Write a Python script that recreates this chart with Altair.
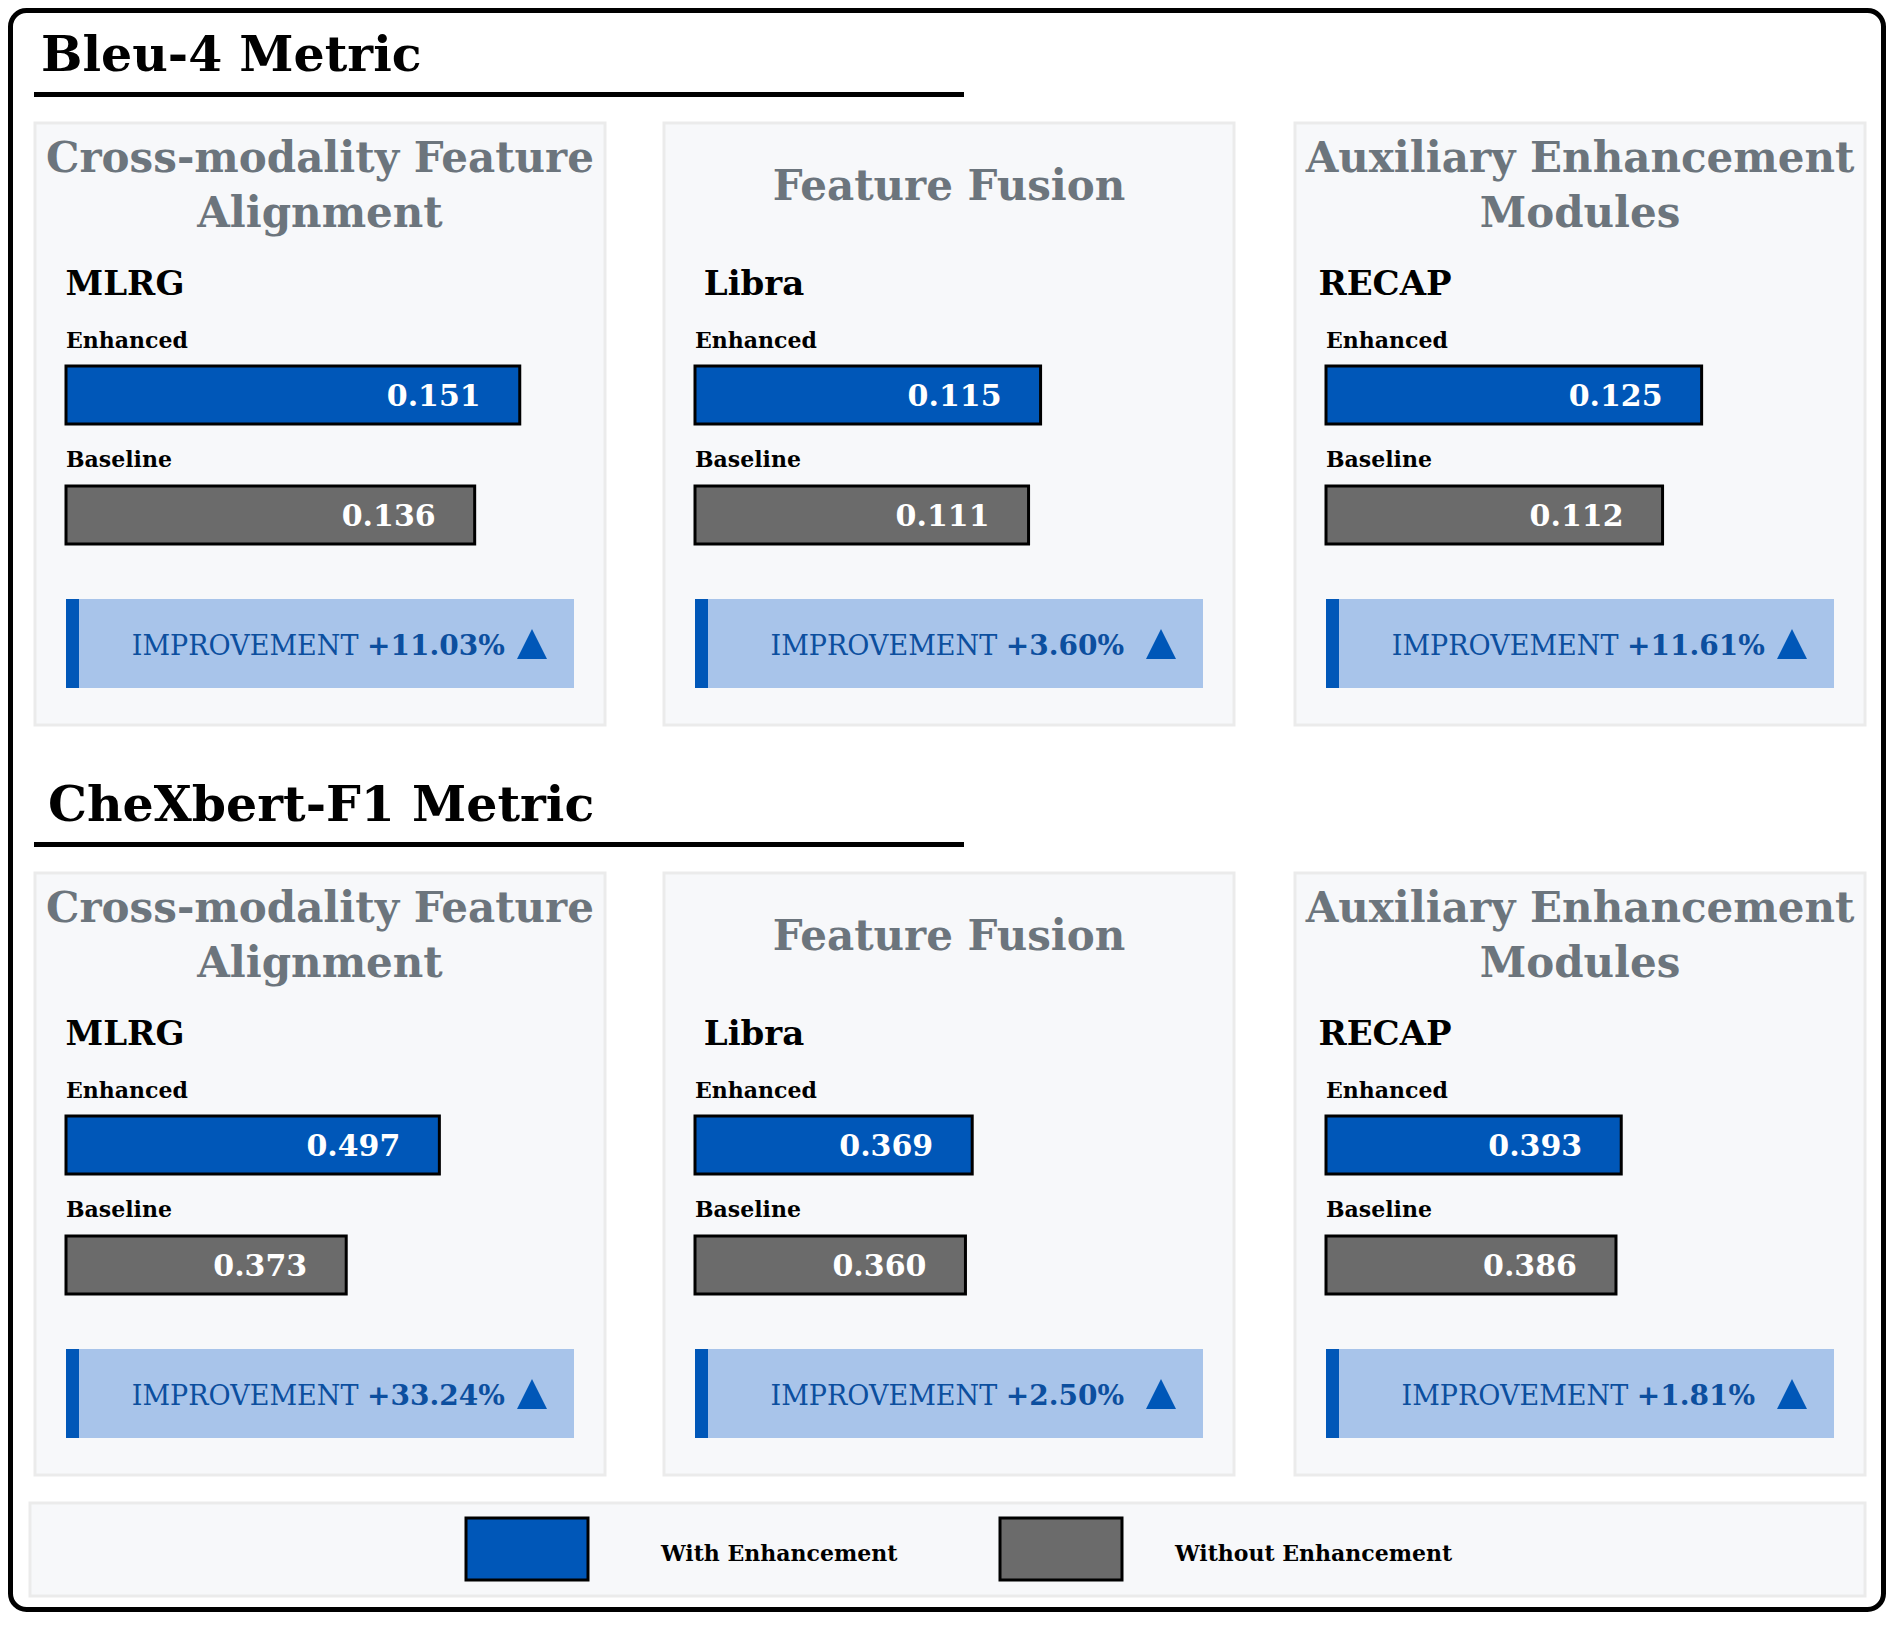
import altair as alt
import pandas as pd

# ------------------------------------------------------------------ data
metrics = ["Bleu-4 Metric", "CheXbert-F1 Metric"]
category_lines = [["Cross-modality Feature", "Alignment"],
                  ["Feature Fusion"],
                  ["Auxiliary Enhancement", "Modules"]]
models = ["MLRG", "Libra", "RECAP"]
bleu_enhanced = [0.151, 0.115, 0.125]
bleu_baseline = [0.136, 0.111, 0.112]
chex_enhanced = [0.497, 0.369, 0.393]
chex_baseline = [0.373, 0.360, 0.386]
bleu_improvement = ["+11.03%", "+3.60%", "+11.61%"]
chex_improvement = ["+33.24%", "+2.50%", "+1.81%"]
axis_max = [0.2, 0.8]
legend_labels = ["With Enhancement", "Without Enhancement"]
kinds = ["Enhanced", "Baseline"]

enhanced = [bleu_enhanced, chex_enhanced]
baseline = [bleu_baseline, chex_baseline]
improvement = [bleu_improvement, chex_improvement]

# ------------------------------------------------------------------ style / layout
FONT = "DejaVu Serif"
BLUE = "#0057b8"
GRAY = "#6b6b6b"
LIGHT = "#a8c4ea"
TXTBLUE = "#0c4f9f"
PANEL_BG = "#f7f8fa"
PANEL_BORDER = "#ebebeb"
TITLE_GRAY = "#6c757d"

OFF = 8
W, H = 1878, 1604
ROW_DY = 750
PANEL_LEFT = [35, 664, 1295]
PANEL_W = 570


def P(v):
    return v - OFF


def sx():
    return alt.Scale(domain=[0, W], range=[0, W], nice=False, zero=False)


def sy():
    return alt.Scale(domain=[0, H], range=[0, H], nice=False, zero=False)


def rect_layer(rows, **kw):
    df = pd.DataFrame(rows, columns=["x0", "x1", "y0", "y1"])
    return alt.Chart(df).mark_rect(**kw).encode(
        x=alt.X("x0:Q", scale=sx(), axis=None), x2="x1:Q",
        y=alt.Y("y0:Q", scale=sy(), axis=None), y2="y1:Q")


def text_layer(rows, size, weight, color, align):
    df = pd.DataFrame(rows, columns=["x", "y", "text"])
    return alt.Chart(df).mark_text(font=FONT, fontSize=size, fontWeight=weight, color=color,
                                   align=align, baseline="alphabetic").encode(
        x=alt.X("x:Q", scale=sx(), axis=None),
        y=alt.Y("y:Q", scale=sy(), axis=None),
        text="text:N")


layers = []

# outer rounded border
layers.append(rect_layer([[2.5, W - 2.5, 2.5, H - 2.5]], fill="white", stroke="black",
                         strokeWidth=5, cornerRadius=16))

# section headers + underlines
header_rows = [[P(41), P(71), metrics[0]], [P(48), P(71 + ROW_DY), metrics[1]]]
layers.append(text_layer(header_rows, 49, "bold", "black", "left"))
layers.append(rect_layer([[P(34), P(964), P(92), P(97)],
                          [P(34), P(964), P(92 + ROW_DY), P(97 + ROW_DY)]], fill="black"))

# panels
panel_rows, box_rows, accent_rows = [], [], []
title_rows, model_rows, kind_rows = [], [], []
imp_reg_rows, imp_bold_rows, tri_rows = [], [], []

REG_W = {"I": .459, "M": .956, "P": .680, "R": .734, "O": .787, "V": .729, "E": .715, "N": .837, "T": .686}
BOLD_W = {"+": .838, ".": .380, "%": 1.05}
FS_IMP = 27
FS_IMP_B = 28


def reg_width(s):
    return sum(REG_W.get(ch, .7) for ch in s) * FS_IMP


def bold_width(s):
    return sum(BOLD_W.get(ch, .696) for ch in s) * FS_IMP_B


for r in range(2):
    dy = r * ROW_DY
    for c in range(3):
        L = PANEL_LEFT[c]
        panel_rows.append([P(L), P(L + PANEL_W), P(123 + dy), P(725 + dy)])
        lines = category_lines[c]
        base_ys = [172, 227] if len(lines) == 2 else [200]
        for ln, by in zip(lines, base_ys):
            title_rows.append([P(L + 285), P(by + dy), ln])
        model_rows.append([P(L + 90), P(295 + dy), models[c]])
        kind_rows.append([P(L + 31), P(348 + dy), kinds[0]])
        kind_rows.append([P(L + 31), P(467 + dy), kinds[1]])
        bl, br = L + 31, L + 539
        box_rows.append([P(bl), P(br), P(599 + dy), P(688 + dy)])
        accent_rows.append([P(bl), P(bl + 13), P(599 + dy), P(688 + dy)])
        reg, bold = "IMPROVEMENT", improvement[r][c]
        gap = 0.318 * FS_IMP
        total = reg_width(reg) + gap + bold_width(bold)
        start = bl + 256 - total / 2
        split = start + reg_width(reg)
        imp_reg_rows.append([P(split), P(655 + dy), reg])
        imp_bold_rows.append([P(split + gap), P(655 + dy), bold])
        tri_rows.append([P(br - 42), P(644 + dy), "up"])

layers.append(rect_layer(panel_rows, fill=PANEL_BG, stroke=PANEL_BORDER, strokeWidth=3))
layers.append(text_layer(title_rows, 42, "bold", TITLE_GRAY, "center"))
layers.append(text_layer(model_rows, 34, "bold", "black", "center"))
layers.append(text_layer(kind_rows, 22, "bold", "black", "left"))
layers.append(rect_layer(box_rows, fill=LIGHT))
layers.append(rect_layer(accent_rows, fill=BLUE))
layers.append(text_layer(imp_reg_rows, FS_IMP, "normal", TXTBLUE, "right"))
layers.append(text_layer(imp_bold_rows, FS_IMP_B, "bold", TXTBLUE, "left"))
tri_df = pd.DataFrame(tri_rows, columns=["x", "y", "t"])
layers.append(alt.Chart(tri_df).mark_point(shape="M0,-1L1,1L-1,1Z", size=900, filled=True,
                                           fill=BLUE, opacity=1, strokeWidth=0).encode(
    x=alt.X("x:Q", scale=sx(), axis=None), y=alt.Y("y:Q", scale=sy(), axis=None)))

# bars (value -> length through each panel's own scale)
for r in range(2):
    dy = r * ROW_DY
    for c in range(3):
        x0 = P(PANEL_LEFT[c] + 31)
        vals = [enhanced[r][c], baseline[r][c]]
        df = pd.DataFrame({"kind": kinds, "value": vals,
                           "label": [f"{v:.3f}" for v in vals]})
        xs = alt.Scale(domain=[0, axis_max[r]], range=[x0, x0 + 601], nice=False)
        ys = alt.Scale(domain=kinds, range=[P(366 + dy), P(544 + dy)],
                       paddingInner=0.5167, paddingOuter=0)
        base = alt.Chart(df).encode(y=alt.Y("kind:N", scale=ys, axis=None))
        bars = base.mark_bar(stroke="black", strokeWidth=3, cornerRadius=0).encode(
            x=alt.X("value:Q", scale=xs, axis=None),
            color=alt.Color("kind:N", scale=alt.Scale(domain=kinds, range=[BLUE, GRAY]), legend=None))
        labels = base.mark_text(font=FONT, fontSize=30, fontWeight="bold", color="white",
                                align="right", baseline="alphabetic", dx=-39, dy=11).encode(
            x=alt.X("value:Q", scale=xs, axis=None), text="label:N")
        layers.append(alt.layer(bars, labels))

# legend
layers.append(rect_layer([[P(30), P(1865), P(1503), P(1596)]], fill=PANEL_BG, stroke=PANEL_BORDER,
                         strokeWidth=3))
leg_df = pd.DataFrame({"label": legend_labels, "kind": kinds,
                       "x0": [P(466), P(1000)], "x1": [P(588), P(1122)],
                       "y0": [P(1518)] * 2, "y1": [P(1580)] * 2,
                       "tx": [P(661), P(1175)], "ty": [P(1561)] * 2})
layers.append(alt.Chart(leg_df).mark_rect(stroke="black", strokeWidth=3).encode(
    x=alt.X("x0:Q", scale=sx(), axis=None), x2="x1:Q",
    y=alt.Y("y0:Q", scale=sy(), axis=None), y2="y1:Q",
    color=alt.Color("kind:N", scale=alt.Scale(domain=kinds, range=[BLUE, GRAY]), legend=None)))
layers.append(alt.Chart(leg_df).mark_text(font=FONT, fontSize=22, fontWeight="bold", color="black",
                                          align="left", baseline="alphabetic").encode(
    x=alt.X("tx:Q", scale=sx(), axis=None), y=alt.Y("ty:Q", scale=sy(), axis=None), text="label:N"))

chart = alt.layer(*layers).resolve_scale(x="independent", y="independent", color="shared").properties(
    width=W, height=H, padding=0, autosize="none", background="white"
).configure_view(stroke=None)

chart.save("out.html", embed_options={"renderer": "svg", "actions": False})
